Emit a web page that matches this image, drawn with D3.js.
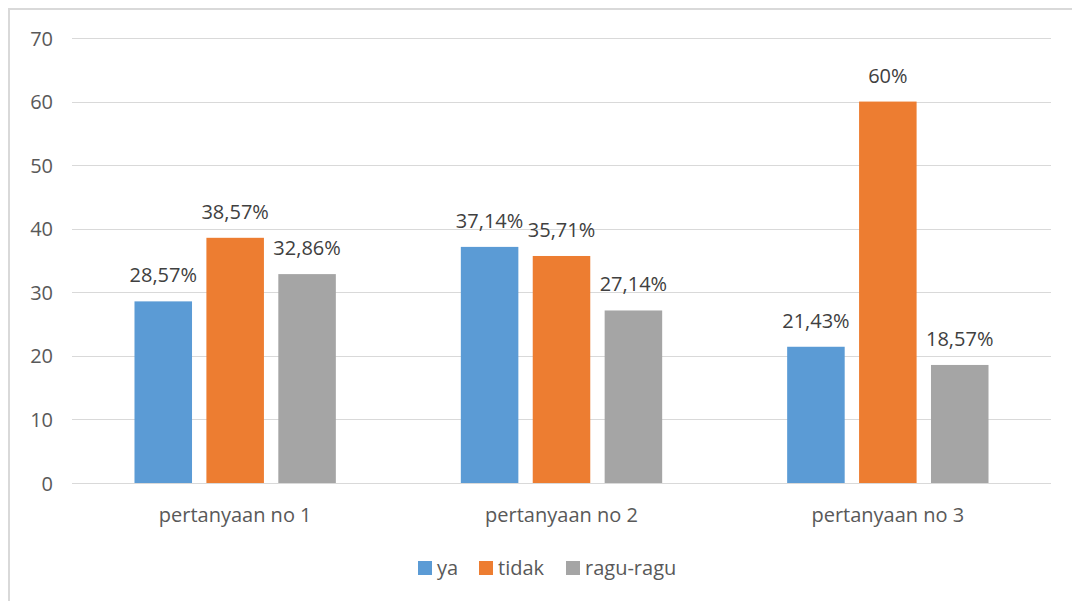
<!DOCTYPE html>
<html>
<head>
<meta charset="utf-8">
<script src="https://cdn.jsdelivr.net/npm/d3@7"></script>
<style>
  body { margin: 0; background: #fff; }
  text { font-family: "Open Sans", "Noto Sans", sans-serif; }
</style>
</head>
<body>
<svg id="chart"></svg>
<script>
const categories = ["pertanyaan no 1", "pertanyaan no 2", "pertanyaan no 3"];
const seriesNames = ["ya", "tidak", "ragu-ragu"];
const yaValues = [28.57, 37.14, 21.43];
const tidakValues = [38.57, 35.71, 60];
const raguValues = [32.86, 27.14, 18.57];
const valueLabels = [
  ["28,57%", "37,14%", "21,43%"],
  ["38,57%", "35,71%", "60%"],
  ["32,86%", "27,14%", "18,57%"]
];
const yTicks = [0, 10, 20, 30, 40, 50, 60, 70];

const colors = ["#5b9bd5", "#ed7d31", "#a5a5a5"];
const allValues = [yaValues, tidakValues, raguValues];

const width = 1072;
const height = 601;
const svg = d3.select("#chart").attr("width", width).attr("height", height);

// outer chart frame (cropped on right/bottom)
svg.append("rect")
  .attr("x", 9).attr("y", 9)
  .attr("width", 1200).attr("height", 800)
  .attr("fill", "none")
  .attr("stroke", "#d9d9d9")
  .attr("stroke-width", 2);

const plotLeft = 72, plotRight = 1051, plotTop = 38, plotBottom = 483;
const fontSize = 20;

const y = d3.scaleLinear().domain([0, 70]).range([plotBottom, plotTop]);

const x0 = d3.scaleBand()
  .domain(categories)
  .range([plotLeft, plotRight])
  .paddingInner(0.383)
  .paddingOuter(0.1915);

const x1 = d3.scaleBand()
  .domain(seriesNames)
  .range([0, x0.bandwidth()])
  .paddingInner(0.2);

// gridlines
svg.append("g")
  .selectAll("line")
  .data(yTicks)
  .enter()
  .append("line")
  .attr("x1", plotLeft)
  .attr("x2", plotRight)
  .attr("y1", (d) => Math.round(y(d)) + 0.5)
  .attr("y2", (d) => Math.round(y(d)) + 0.5)
  .attr("stroke", "#d9d9d9")
  .attr("stroke-width", 1);

// y tick labels
svg.append("g")
  .selectAll("text")
  .data(yTicks)
  .enter()
  .append("text")
  .attr("x", 53)
  .attr("y", (d) => y(d) + 7.5)
  .attr("text-anchor", "end")
  .attr("font-size", fontSize)
  .attr("fill", "#595959")
  .text((d) => d);

// bars
const groups = svg.append("g")
  .selectAll("g")
  .data(categories)
  .enter()
  .append("g")
  .attr("transform", (d) => `translate(${x0(d)},0)`);

groups.selectAll("rect")
  .data((d, i) => seriesNames.map((s, j) => ({ s: s, j: j, v: allValues[j][i] })))
  .enter()
  .append("rect")
  .attr("x", (d) => x1(d.s))
  .attr("y", (d) => y(d.v))
  .attr("width", x1.bandwidth())
  .attr("height", (d) => y(0) - y(d.v))
  .attr("fill", (d) => colors[d.j]);

groups.selectAll("text")
  .data((d, i) => seriesNames.map((s, j) => ({ s: s, j: j, v: allValues[j][i], label: valueLabels[j][i] })))
  .enter()
  .append("text")
  .attr("x", (d) => x1(d.s) + x1.bandwidth() / 2)
  .attr("y", (d) => y(d.v) - 19)
  .attr("text-anchor", "middle")
  .attr("font-size", fontSize)
  .attr("fill", "#404040")
  .text((d) => d.label);

// category labels
svg.append("g")
  .selectAll("text")
  .data(categories)
  .enter()
  .append("text")
  .attr("x", (d) => x0(d) + x0.bandwidth() / 2)
  .attr("y", 522)
  .attr("text-anchor", "middle")
  .attr("font-size", fontSize)
  .attr("fill", "#595959")
  .text((d) => d);

// legend
const legendX = [418, 479, 566];
const legend = svg.append("g")
  .selectAll("g")
  .data(seriesNames)
  .enter()
  .append("g")
  .attr("transform", (d, i) => `translate(${legendX[i]},561)`);

legend.append("rect")
  .attr("width", 14)
  .attr("height", 14)
  .attr("fill", (d, i) => colors[i]);

legend.append("text")
  .attr("x", 19)
  .attr("y", 14)
  .attr("font-size", fontSize)
  .attr("fill", "#595959")
  .text((d) => d);
</script>
</body>
</html>
